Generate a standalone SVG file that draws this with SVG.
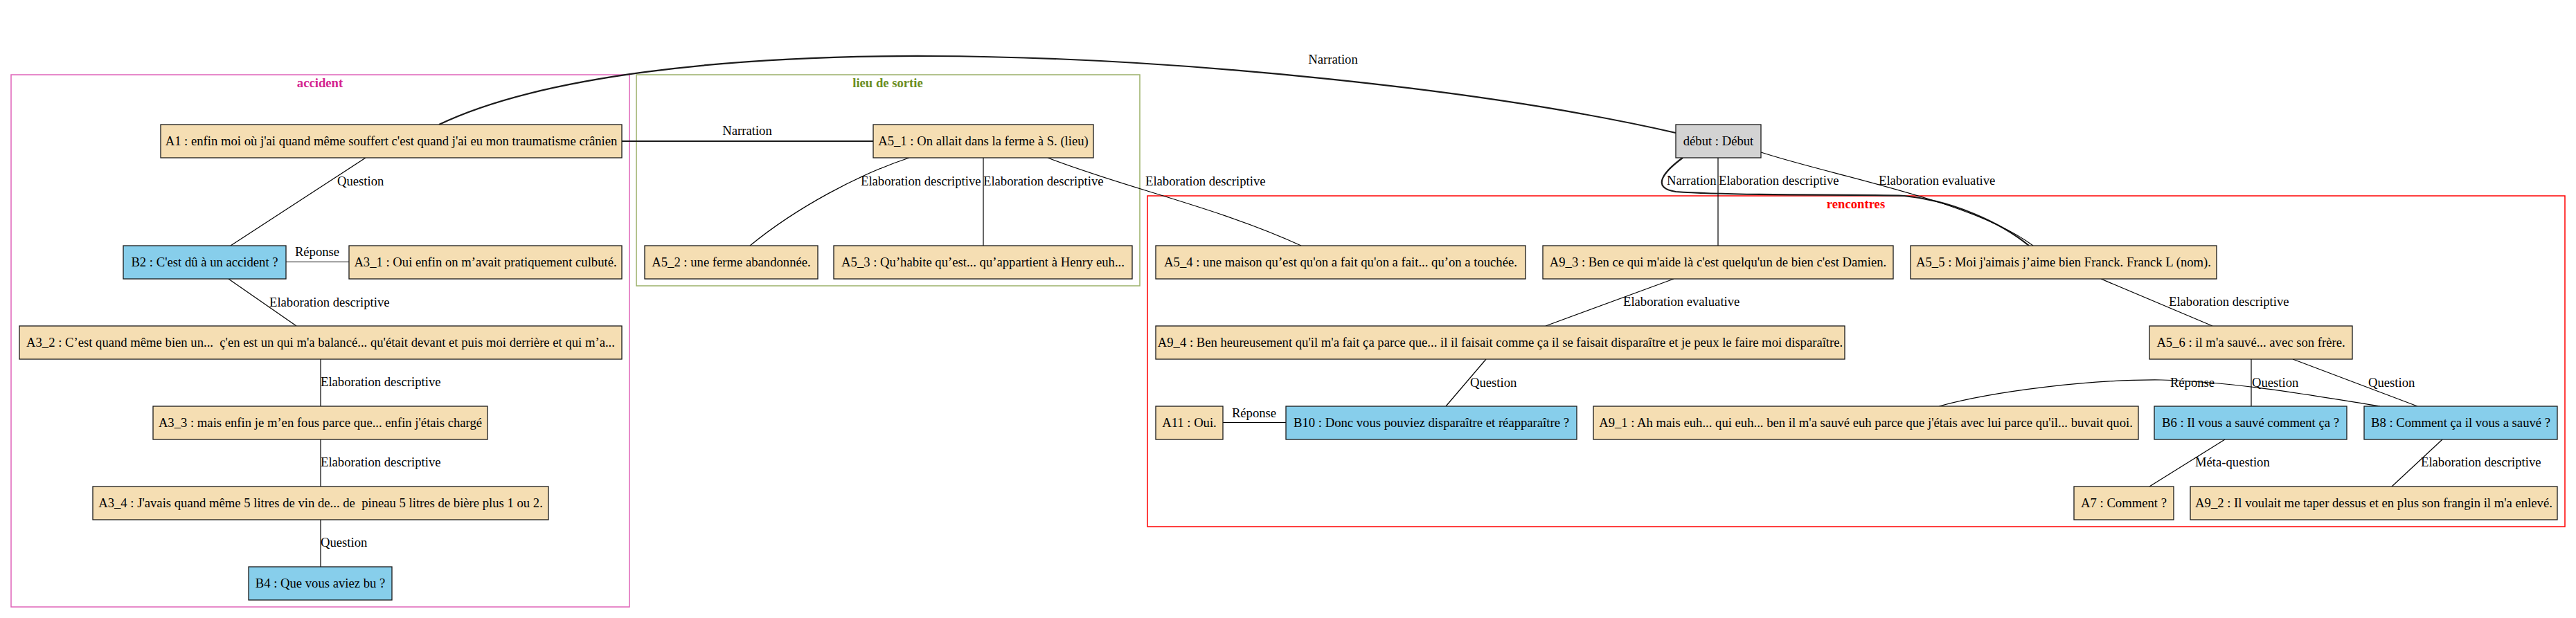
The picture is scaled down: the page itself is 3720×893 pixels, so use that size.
<svg xmlns="http://www.w3.org/2000/svg" width="3720" height="893" viewBox="0 0 3720 893">
<style>
text{font-family:"Liberation Serif","Times New Roman",serif;font-size:18.67px;fill:#000}
.n rect{stroke:#1a1a1a;stroke-width:1.3}
.w{fill:#F5DEB3}.b{fill:#87CEEB}.g{fill:#D3D3D3}
.n text{text-anchor:middle}
.c rect{fill:none;stroke-width:1.5}
.c text{font-weight:bold;text-anchor:middle}
.c text.pk{fill:#D4248F}.c text.ol{fill:#6B8E23}.c text.rd{fill:#FF0000}
#edges path{fill:none;stroke:#000;stroke-width:1.2}
#edges path.nar{stroke:#1a1a1a;stroke-width:2.2}
#edges text.m{text-anchor:middle}
</style>
<rect width="3720" height="893" fill="#fff"/>
<g id="clusters">
<g id="cluster_accident" class="c"><rect x="16" y="108" width="893" height="769" stroke="#DF64B9"/><text class="pk" x="462" y="126">accident</text></g>
<g id="cluster_lieu" class="c"><rect x="919" y="108" width="727" height="305" stroke="#9BB068"/><text class="ol" x="1282" y="126">lieu de sortie</text></g>
<g id="cluster_rencontres" class="c"><rect x="1657" y="283" width="2047" height="478" stroke="#FF0000"/><text class="rd" x="2680" y="301">rencontres</text></g>
</g>
<g id="edges">
<path class="nar" d="M634,180 C780,110 1050,80 1340,81 C1700,82 2150,130 2420,192"/>
<text class="m" x="1925" y="92">Narration</text>
<path class="nar" d="M898,204 L1261,204"/>
<text class="m" x="1079" y="195">Narration</text>
<path d="M528,228 L333,355"/>
<text x="487" y="268">Question</text>
<path d="M413,378.5 L504,378.5"/>
<text class="m" x="458" y="370">Réponse</text>
<path d="M330,403 L428,471"/>
<text x="389" y="443">Elaboration descriptive</text>
<path d="M463,519 L463,587"/>
<text x="463" y="558">Elaboration descriptive</text>
<path d="M463,635 L463,703"/>
<text x="463" y="674">Elaboration descriptive</text>
<path d="M463,751 L463,819"/>
<text x="463" y="790">Question</text>
<path d="M1313,228 C1240,252 1150,300 1083,355"/>
<text x="1243" y="268">Elaboration descriptive</text>
<path d="M1420,228 L1420,355"/>
<text x="1420" y="268">Elaboration descriptive</text>
<path d="M1513,228 C1620,270 1760,300 1879,355"/>
<text x="1654" y="268">Elaboration descriptive</text>
<path d="M2481,228 L2481,355"/>
<text x="2482" y="267">Elaboration descriptive</text>
<path class="nar" d="M2430,228 C2400,250 2385,272 2420,277 C2520,284 2680,280 2750,283 C2820,290 2890,322 2930,355"/>
<text x="2407" y="267">Narration</text>
<path d="M2543,220 C2650,255 2850,290 2936,355"/>
<text x="2713" y="267">Elaboration evaluative</text>
<path d="M2417,403 L2232,471"/>
<text x="2344" y="442">Elaboration evaluative</text>
<path d="M2146,519 L2088,587"/>
<text x="2123" y="559">Question</text>
<path d="M1766,610.5 L1857,610.5"/>
<text class="m" x="1811" y="603">Réponse</text>
<path d="M3034,403 L3195,471"/>
<text x="3132" y="442">Elaboration descriptive</text>
<path d="M3251,519 L3251,587"/>
<text x="3252" y="559">Question</text>
<path d="M3311,519 L3491,587"/>
<text x="3420" y="559">Question</text>
<path d="M2800,587 C2880,565 3020,548 3121,549 C3230,552 3330,570 3437,587"/>
<text class="m" x="3166" y="559">Réponse</text>
<path d="M3213,635 L3104,703"/>
<text x="3170" y="674">Méta-question</text>
<path d="M3527,635 L3454,703"/>
<text x="3496" y="674">Elaboration descriptive</text>
</g>
<g id="A1" class="n"><rect class="w" x="232" y="180" width="666" height="48"/><text x="565" y="210">A1 : enfin moi où j'ai quand même souffert c'est quand j'ai eu mon traumatisme crânien</text></g>
<g id="A5_1" class="n"><rect class="w" x="1261" y="180" width="318" height="48"/><text x="1420" y="210">A5_1 : On allait dans la ferme à S. (lieu)</text></g>
<g id="debut" class="n"><rect class="g" x="2420" y="180" width="123" height="48"/><text x="2481.5" y="210">début : Début</text></g>
<g id="B2" class="n"><rect class="b" x="178" y="355" width="235" height="48"/><text x="295.5" y="385">B2 : C'est dû à un accident ?</text></g>
<g id="A3_1" class="n"><rect class="w" x="504" y="355" width="394" height="48"/><text x="701" y="385">A3_1 : Oui enfin on m’avait pratiquement culbuté.</text></g>
<g id="A5_2" class="n"><rect class="w" x="931" y="355" width="250" height="48"/><text x="1056" y="385">A5_2 : une ferme abandonnée.</text></g>
<g id="A5_3" class="n"><rect class="w" x="1204" y="355" width="431" height="48"/><text x="1419.5" y="385">A5_3 : Qu’habite qu’est... qu’appartient à Henry euh...</text></g>
<g id="A5_4" class="n"><rect class="w" x="1669" y="355" width="534" height="48"/><text x="1936" y="385">A5_4 : une maison qu’est qu'on a fait qu'on a fait... qu’on a touchée.</text></g>
<g id="A9_3" class="n"><rect class="w" x="2228" y="355" width="506" height="48"/><text x="2481" y="385">A9_3 : Ben ce qui m'aide là c'est quelqu'un de bien c'est Damien.</text></g>
<g id="A5_5" class="n"><rect class="w" x="2759" y="355" width="442" height="48"/><text x="2980" y="385">A5_5 : Moi j'aimais j’aime bien Franck. Franck L (nom).</text></g>
<g id="A3_2" class="n"><rect class="w" x="28" y="471" width="870" height="48"/><text x="463" y="501" xml:space="preserve">A3_2 : C’est quand même bien un...  ç'en est un qui m'a balancé... qu'était devant et puis moi derrière et qui m’a...</text></g>
<g id="A9_4" class="n"><rect class="w" x="1669" y="471" width="995" height="48"/><text x="2166.5" y="501">A9_4 : Ben heureusement qu'il m'a fait ça parce que... il il faisait comme ça il se faisait disparaître et je peux le faire moi disparaître.</text></g>
<g id="A5_6" class="n"><rect class="w" x="3104" y="471" width="293" height="48"/><text x="3250.5" y="501">A5_6 : il m'a sauvé... avec son frère.</text></g>
<g id="A3_3" class="n"><rect class="w" x="221" y="587" width="483" height="48"/><text x="462.5" y="617">A3_3 : mais enfin je m’en fous parce que... enfin j'étais chargé</text></g>
<g id="A11" class="n"><rect class="w" x="1669" y="587" width="97" height="48"/><text x="1717.5" y="617">A11 : Oui.</text></g>
<g id="B10" class="n"><rect class="b" x="1857" y="587" width="420" height="48"/><text x="2067" y="617">B10 : Donc vous pouviez disparaître et réapparaître ?</text></g>
<g id="A9_1" class="n"><rect class="w" x="2301" y="587" width="787" height="48"/><text x="2694.5" y="617">A9_1 : Ah mais euh... qui euh... ben il m'a sauvé euh parce que j'étais avec lui parce qu'il... buvait quoi.</text></g>
<g id="B6" class="n"><rect class="b" x="3111" y="587" width="278" height="48"/><text x="3250" y="617">B6 : Il vous a sauvé comment ça ?</text></g>
<g id="B8" class="n"><rect class="b" x="3414" y="587" width="279" height="48"/><text x="3553.5" y="617">B8 : Comment ça il vous a sauvé ?</text></g>
<g id="A3_4" class="n"><rect class="w" x="134" y="703" width="658" height="48"/><text x="463" y="733" xml:space="preserve">A3_4 : J'avais quand même 5 litres de vin de... de  pineau 5 litres de bière plus 1 ou 2.</text></g>
<g id="A7" class="n"><rect class="w" x="2995" y="703" width="144" height="48"/><text x="3067" y="733">A7 : Comment ?</text></g>
<g id="A9_2" class="n"><rect class="w" x="3163" y="703" width="530" height="48"/><text x="3428" y="733">A9_2 : Il voulait me taper dessus et en plus son frangin il m'a enlevé.</text></g>
<g id="B4" class="n"><rect class="b" x="359" y="819" width="207" height="48"/><text x="462.5" y="849">B4 : Que vous aviez bu ?</text></g>
</svg>
